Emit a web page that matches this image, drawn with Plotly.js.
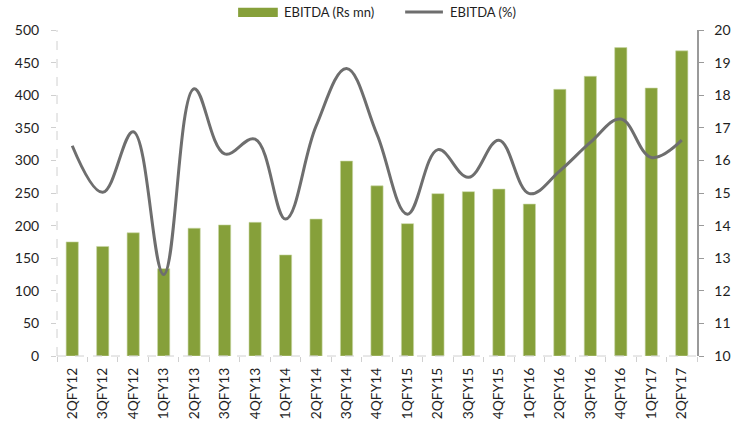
<!DOCTYPE html>
<html><head><meta charset="utf-8">
<script src="https://cdn.plot.ly/plotly-3.0.1.min.js"></script>
<style>html,body{margin:0;padding:0;background:#fff;}#c{width:745px;height:431px;}</style>
</head><body><div id="c"></div>
<script>
const quarters = ["2QFY12","3QFY12","4QFY12","1QFY13","2QFY13","3QFY13","4QFY13","1QFY14","2QFY14","3QFY14","4QFY14","1QFY15","2QFY15","3QFY15","4QFY15","1QFY16","2QFY16","3QFY16","4QFY16","1QFY17","2QFY17"];
const ebitdaRs = [175,168,189,134,196,201,205,155,210,299,261,203,249,252,256,233,409,429,473,411,468];
const ebitdaPct = [16.45,15.02,16.88,12.5,18.2,16.2,16.65,14.2,17.05,18.82,16.8,14.35,16.33,15.48,16.62,14.98,15.68,16.55,17.27,16.09,16.62];
const leftTicks = [0,50,100,150,200,250,300,350,400,450,500];
const rightTicks = [10,11,12,13,14,15,16,17,18,19,20];
const seriesNames = ["EBITDA (Rs mn)","EBITDA (%)"];

const green = "#86A03A", grey = "#6E6E6E";
const font = "Lato, 'Open Sans', sans-serif";

const traces = [
  {type:"bar", x:quarters, y:ebitdaRs, name:seriesNames[0], marker:{color:green, line:{color:"#c9d6a6", width:0.6}}, yaxis:"y", hoverinfo:"x+y"},
  {type:"scatter", mode:"lines", x:quarters, y:ebitdaPct, name:seriesNames[1], yaxis:"y2", line:{color:grey, width:3, shape:"spline", smoothing:1.1}}
];

const layout = {
  width:745, height:431,
  margin:{l:57, r:48, t:30, b:75},
  paper_bgcolor:"#fff", plot_bgcolor:"#fff",
  showlegend:false,
  bargap:0.6,
  font:{family:font, color:"#1e1e1e", size:14},
  xaxis:{type:"category", tickangle:-90, tickfont:{size:13.8}, showgrid:false, showline:false, ticks:"outside", ticklen:5, tickcolor:"#d0d0d0", tickson:"boundaries", ticklabelstandoff:8, zeroline:false, fixedrange:true},
  yaxis:{range:[0,500], tickvals:leftTicks, showgrid:false, showline:false, zeroline:false, ticks:"outside", ticklen:5, tickcolor:"#d0d0d0", ticklabelstandoff:9, tickfont:{size:14}},
  yaxis2:{overlaying:"y", side:"right", range:[10,20], tickvals:rightTicks, showgrid:false, showline:true, linecolor:"#9a9a9a", linewidth:1.5, ticks:"outside", ticklen:5, tickcolor:"#9a9a9a", ticklabelstandoff:8, zeroline:false, tickfont:{size:14}},
  shapes:[
    {type:"line", xref:"paper", yref:"paper", x0:0, x1:0, y0:0, y1:1, line:{color:"#d0d0d0", width:1, dash:"dash"}},
    {type:"line", xref:"paper", yref:"paper", x0:0, x1:1, y0:0, y1:0, line:{color:"#d0d0d0", width:1, dash:"dash"}},
    {type:"rect", xref:"paper", yref:"paper", x0:0.283, x1:0.345, y0:1.04, y1:1.068, fillcolor:green, line:{width:0}},
    {type:"line", xref:"paper", yref:"paper", x0:0.544, x1:0.603, y0:1.055, y1:1.055, line:{color:grey, width:3}}
  ],
  annotations:[
    {xref:"paper", yref:"paper", x:0.352, y:1.055, xanchor:"left", yanchor:"middle", text:seriesNames[0], showarrow:false, font:{size:13}},
    {xref:"paper", yref:"paper", x:0.611, y:1.055, xanchor:"left", yanchor:"middle", text:seriesNames[1], showarrow:false, font:{size:13}}
  ]
};
Plotly.newPlot("c", traces, layout, {displayModeBar:false, staticPlot:true});
</script></body></html>
